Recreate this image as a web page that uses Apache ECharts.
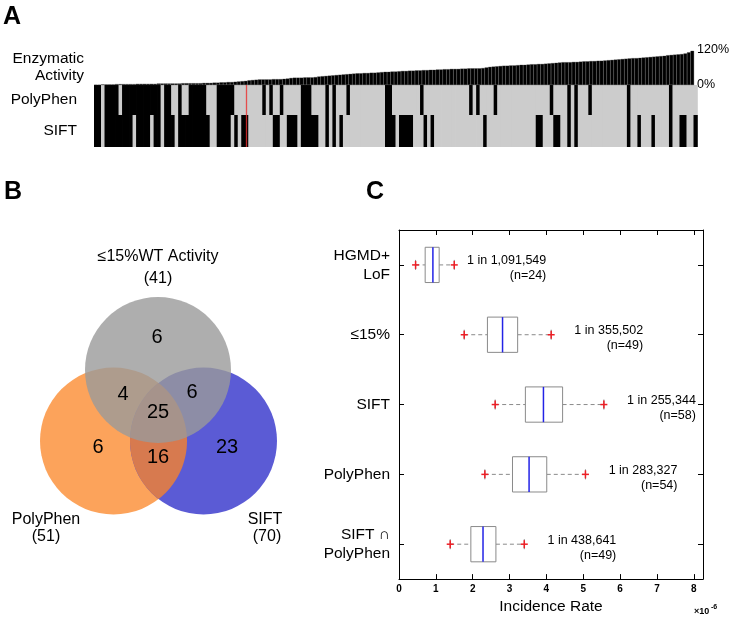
<!DOCTYPE html>
<html><head><meta charset="utf-8">
<script src="https://cdn.jsdelivr.net/npm/echarts@6/dist/echarts.min.js"></script>
<style>html,body{margin:0;padding:0;background:#fff}#c{width:732px;height:620px}</style>
</head><body><div id="c"></div>
<script>
// ---------------- Panel A data (variants sorted by enzymatic activity, %WT) ----------------
const activity = [
  1,1,2,2,2,2,3,3,3,3,
  3,3,4,4,4,4,4,4,5,5,
  5,5,5,5,5,6,6,6,6,6,
  6,7,7,7,8,8,9,9,10,10,
  11,12,13,14,16,17,18,19,19,19,
  19,20,20,20,21,22,24,25,25,25,
  26,26,26,27,29,30,31,32,33,34,
  35,36,37,38,39,40,40,41,41,42,
  42,43,44,45,45,46,46,47,48,48,
  49,49,50,50,51,51,52,52,53,53,
  54,54,55,55,55,56,56,57,57,57,
  57,58,60,62,63,64,65,66,66,67,
  67,68,69,69,70,71,71,72,72,73,
  74,75,76,77,78,78,78,79,79,80,
  81,81,82,82,83,83,84,85,86,87,
  88,89,90,91,92,92,93,94,95,96,
  97,98,99,100,102,103,104,105,106,108,
  112,117
];
// 1 = predicted damaging (black), 0 = benign (gray)
const polyphen = [
  1,1,0,1,1,1,1,0,1,1,
  1,1,1,1,1,1,1,1,1,0,
  1,1,0,0,1,0,0,1,1,1,
  1,1,0,0,0,1,1,1,1,1,
  0,0,0,0,0,0,0,0,1,0,
  1,0,0,1,0,0,0,0,0,1,
  1,1,0,0,0,0,1,0,1,0,
  0,0,1,0,0,0,0,0,0,0,
  0,0,0,1,1,0,0,0,0,0,
  0,0,0,1,0,0,0,0,0,0,
  0,0,0,0,0,0,0,1,0,1,
  0,0,0,0,1,0,0,0,0,0,
  0,0,0,0,0,0,0,0,0,0,
  1,0,0,0,0,1,0,1,0,0,
  0,1,0,0,0,0,0,0,0,0,
  0,0,1,0,0,0,0,0,0,0,
  0,0,0,0,1,0,0,0,0,0,
  0,0
];
const sift = [
  1,1,0,1,1,1,1,1,1,1,
  1,0,1,1,1,1,0,1,1,0,
  1,1,1,0,1,1,1,1,1,1,
  1,1,1,0,0,1,1,1,1,0,
  1,0,1,1,0,0,0,0,0,0,
  0,1,1,0,0,1,1,1,0,1,
  1,1,1,1,0,0,1,0,1,0,
  1,0,0,0,0,0,0,0,0,0,
  0,0,0,1,1,1,0,1,1,1,
  1,0,0,0,1,0,1,0,0,0,
  0,0,0,0,0,0,0,0,0,0,
  0,1,0,0,0,0,0,0,0,0,
  0,0,0,0,0,0,1,1,0,0,
  0,1,1,0,0,1,0,1,0,0,
  0,0,0,0,0,0,0,0,0,0,
  0,0,1,0,0,1,0,0,0,1,
  0,0,0,0,1,0,0,1,1,0,
  0,1
];
const thresholdIndex = 43;            // red marker (15% WT activity cut-off)
const activityTicks = [0, 120];

// ---------------- Panel B data (Venn) ----------------
const vennSetNames = ['≤15%WT Activity', 'PolyPhen', 'SIFT'];
const vennSetTotals = [41, 51, 70];
// regions: activity only, activity∩polyphen, activity∩sift, all three, polyphen only, polyphen∩sift, sift only
const vennRegionCounts = [6, 4, 6, 25, 6, 16, 23];

// ---------------- Panel C data (incidence rate, x10^-6) ----------------
const boxCategories = ['HGMD+\nLoF', '≤15%', 'SIFT', 'PolyPhen', 'SIFT ∩\nPolyPhen'];
const whiskerLow  = [0.45, 1.77, 2.61, 2.33, 1.39];
const quartile1   = [0.71, 2.40, 3.43, 3.08, 1.95];
const medianRate  = [0.92, 2.81, 3.92, 3.53, 2.28];
const quartile3   = [1.09, 3.22, 4.44, 4.01, 2.63];
const whiskerHigh = [1.50, 4.13, 5.56, 5.06, 3.40];
const incidenceLabels = ['1 in 1,091,549', '1 in 355,502', '1 in 255,344', '1 in 283,327', '1 in 438,641'];
const sampleLabels = ['(n=24)', '(n=49)', '(n=58)', '(n=54)', '(n=49)'];
const xTicksC = [0, 1, 2, 3, 4, 5, 6, 7, 8];

// ---------------- build ----------------
const FONT = '"Liberation Sans", Arial, Helvetica, sans-serif';
const chart = echarts.init(document.getElementById('c'), null, {renderer: 'canvas'});
const idx = activity.map((_, i) => i);
const BLACK = '#000000', LIGHT = '#cccccc';

const hiddenCat = gi => ({type: 'category', gridIndex: gi, data: idx, show: false, boundaryGap: true});
const nameAxis = (gi, name) => ({
  type: 'value', gridIndex: gi, min: 0, max: 1, position: 'left',
  axisLine: {show: false}, axisTick: {show: false}, axisLabel: {show: false}, splitLine: {show: false},
  name: name, nameLocation: 'middle', nameRotate: 0, nameGap: 17,
  nameTextStyle: {align: 'right', verticalAlign: 'middle', fontFamily: FONT, fontSize: 15.5, color: '#000'}
});

// one cell per variant: black = damaging, gray = benign (slight overlap avoids seams)
const rowSeries = (axisIdx, arr) => ({
  type: 'custom', xAxisIndex: axisIdx, yAxisIndex: axisIdx + 1, silent: true,
  data: arr.map((v, i) => [i, v]),
  encode: {x: 0, y: 1},
  renderItem: function (params, api) {
    const cs = params.coordSys;
    const cx = api.coord([api.value(0), 0])[0];
    const w = api.size([1, 0])[0];
    return {type: 'rect', shape: {x: cx - w / 2, y: cs.y, width: w + 0.8, height: cs.height},
      style: {fill: api.value(1) ? BLACK : LIGHT}};
  },
  markLine: {silent: true, symbol: 'none', label: {show: false}, animation: false,
    lineStyle: {color: 'rgba(235,45,45,0.8)', width: 1.3, type: 'solid'}, data: [{xAxis: thresholdIndex}]},
  z: 2
});

// Venn geometry (layout)
const gC = {cx: 158, cy: 370, r: 73};
const oC = {cx: 113.5, cy: 441, r: 73.5};
const bC = {cx: 203.5, cy: 441, r: 73.5};
const half = (bC.cx - oC.cx) / 2, hh = Math.sqrt(oC.r * oC.r - half * half);
const ang = Math.asin(hh / oC.r);
const lensPts = [];
for (let k = 0; k <= 40; k++) { const a = -ang + 2 * ang * k / 40; lensPts.push([oC.cx + oC.r * Math.cos(a), oC.cy + oC.r * Math.sin(a)]); }
for (let k = 0; k <= 40; k++) { const a = Math.PI - ang + 2 * ang * k / 40; lensPts.push([bC.cx + bC.r * Math.cos(a), bC.cy + bC.r * Math.sin(a)]); }
const vennPos = [[157, 337], [123, 394], [192, 392], [158, 412], [98, 447], [158, 457], [227, 447]];
const txt = (x, y, text, size, opts) => ({
  type: 'text', silent: true,
  style: Object.assign({x: x, y: y, text: text, fill: '#000', font: `${size}px ${FONT}`, textAlign: 'center', textVerticalAlign: 'middle'}, opts || {})
});

const graphics = [
  txt(3, 17, 'A', 25, {font: `bold 25px ${FONT}`, textAlign: 'left'}),
  txt(4, 192, 'B', 25, {font: `bold 25px ${FONT}`, textAlign: 'left'}),
  txt(366, 192, 'C', 25, {font: `bold 25px ${FONT}`, textAlign: 'left'}),
  {type: 'circle', silent: true, shape: {cx: oC.cx, cy: oC.cy, r: oC.r}, style: {fill: '#fca35b'}},
  {type: 'circle', silent: true, shape: {cx: bC.cx, cy: bC.cy, r: bC.r}, style: {fill: '#5b5bd5'}},
  {type: 'polygon', silent: true, shape: {points: lensPts}, style: {fill: '#d77a4f'}},
  {type: 'circle', silent: true, shape: {cx: gC.cx, cy: gC.cy, r: gC.r}, style: {fill: '#9a9a9a', opacity: 0.8}},
  txt(158, 257, vennSetNames[0], 16),
  txt(158, 279, '(' + vennSetTotals[0] + ')', 16),
  txt(46, 520, vennSetNames[1], 16),
  txt(46, 537, '(' + vennSetTotals[1] + ')', 16),
  txt(265, 520, vennSetNames[2], 16),
  txt(267, 537, '(' + vennSetTotals[2] + ')', 16),
  txt(694, 612, '×10', 9, {font: `bold 9px ${FONT}`, textAlign: 'left'}),
  txt(711, 607, '-6', 7, {font: `bold 7px ${FONT}`, textAlign: 'left'})
];
vennRegionCounts.forEach((c, i) => graphics.push(txt(vennPos[i][0], vennPos[i][1], String(c), 20)));

const boxData = boxCategories.map((_, i) => [i, whiskerLow[i], quartile1[i], medianRate[i], quartile3[i], whiskerHigh[i]]);

const option = {
  animation: false,
  backgroundColor: '#fff',
  textStyle: {fontFamily: FONT},
  grid: [
    {left: 94, top: 50, width: 603, height: 35},
    {left: 94, top: 85, width: 603, height: 30},
    {left: 94, top: 115, width: 603, height: 32},
    {left: 399, top: 230, width: 304, height: 356}
  ],
  xAxis: [
    hiddenCat(0), hiddenCat(1), hiddenCat(2),
    {type: 'value', gridIndex: 3, min: 0, max: 8.25, interval: 1, position: 'bottom',
     axisLine: {show: true, onZero: false, lineStyle: {color: '#000', width: 1}},
     axisTick: {show: true, inside: true, length: 5, lineStyle: {color: '#000'}},
     splitLine: {show: false},
     axisLabel: {margin: 5, fontSize: 10, fontWeight: 'bold', color: '#000', fontFamily: FONT,
       formatter: v => xTicksC.indexOf(v) >= 0 ? String(v) : ''},
     name: 'Incidence Rate', nameLocation: 'middle', nameGap: 18,
     nameTextStyle: {fontSize: 15.5, color: '#000', fontFamily: FONT}},
    {type: 'value', gridIndex: 3, min: 0, max: 8.25, interval: 1, position: 'top',
     axisLine: {show: true, onZero: false, lineStyle: {color: '#000', width: 1}},
     axisTick: {show: true, inside: true, length: 5, lineStyle: {color: '#000'}},
     splitLine: {show: false}, axisLabel: {show: false}}
  ],
  yAxis: [
    {type: 'value', gridIndex: 0, min: 0, max: 120, position: 'left',
     axisLine: {show: false}, axisTick: {show: false}, axisLabel: {show: false}, splitLine: {show: false},
     name: 'Enzymatic\nActivity', nameLocation: 'middle', nameRotate: 0, nameGap: 10,
     nameTextStyle: {align: 'right', verticalAlign: 'middle', lineHeight: 17, padding: [0, 0, 13, 0], fontFamily: FONT, fontSize: 15.5, color: '#000'}},
    {type: 'value', gridIndex: 0, min: 0, max: 120, interval: 120, position: 'right',
     axisLine: {show: false}, axisTick: {show: false}, splitLine: {show: false},
     axisLabel: {margin: 3, fontSize: 12.5, color: '#000', fontFamily: FONT,
       formatter: v => activityTicks.indexOf(v) >= 0 ? v + '%' : ''}},
    nameAxis(1, 'PolyPhen'),
    nameAxis(2, 'SIFT'),
    {type: 'category', gridIndex: 3, data: boxCategories, inverse: true, position: 'left',
     axisLine: {show: true, onZero: false, lineStyle: {color: '#000', width: 1}},
     axisTick: {show: true, inside: true, alignWithLabel: true, length: 5, lineStyle: {color: '#000'}},
     axisLabel: {margin: 9, fontSize: 15.5, lineHeight: 19, color: '#000', fontFamily: FONT, align: 'right'},
     splitLine: {show: false}},
    {type: 'category', gridIndex: 3, data: boxCategories, inverse: true, position: 'right',
     axisLine: {show: true, onZero: false, lineStyle: {color: '#000', width: 1}},
     axisTick: {show: true, inside: true, alignWithLabel: true, length: 5, lineStyle: {color: '#000'}},
     axisLabel: {show: false}, splitLine: {show: false}}
  ],
  series: [
    {type: 'bar', xAxisIndex: 0, yAxisIndex: 1, data: activity, barCategoryGap: '0%',
     itemStyle: {color: '#000', borderColor: '#333', borderWidth: 0.3}, silent: true},
    rowSeries(1, polyphen),
    rowSeries(2, sift),
    {type: 'custom', xAxisIndex: 3, yAxisIndex: 4, data: boxData, silent: true,
     encode: {x: [1, 2, 3, 4, 5], y: 0},
     renderItem: function (params, api) {
       const i = api.value(0);
       const yc = api.coord([0, i])[1];
       const bh = api.size([0, 1])[1] * 0.505;
       const X = k => api.coord([api.value(k), i])[0];
       const xl = X(1), x1 = X(2), xm = X(3), x3 = X(4), xh = X(5);
       const gray = '#8a8a8a', red = '#ee1f26';
       const ln = (a, b, c, d, st) => ({type: 'line', shape: {x1: a, y1: b, x2: c, y2: d}, style: Object.assign({stroke: gray, lineWidth: 1}, st || {})});
       const plus = x => [ln(x - 3.5, yc, x + 3.5, yc, {stroke: red, lineWidth: 1.5}), ln(x, yc - 4, x, yc + 4, {stroke: red, lineWidth: 1.5})];
       return {type: 'group', children: [
         ln(xl, yc, x1, yc, {lineDash: [4, 3]}),
         ln(x3, yc, xh, yc, {lineDash: [4, 3]}),
         ln(xl, yc - 5, xl, yc + 5),
         ln(xh, yc - 5, xh, yc + 5),
         {type: 'rect', shape: {x: x1, y: yc - bh / 2, width: x3 - x1, height: bh}, style: {fill: '#fff', stroke: gray, lineWidth: 1}},
         ln(xm, yc - bh / 2, xm, yc + bh / 2, {stroke: '#2323e6', lineWidth: 1.5}),
         ...plus(xl), ...plus(xh),
         {type: 'text', style: {x: xh + 92, y: yc + 3.5, text: incidenceLabels[params.dataIndex] + '\n' + sampleLabels[params.dataIndex],
           textAlign: 'right', textVerticalAlign: 'middle', font: `12.5px ${FONT}`, lineHeight: 15, fill: '#000'}}
       ]};
     }}
  ],
  graphic: graphics
};
chart.setOption(option);
</script>
</body></html>
